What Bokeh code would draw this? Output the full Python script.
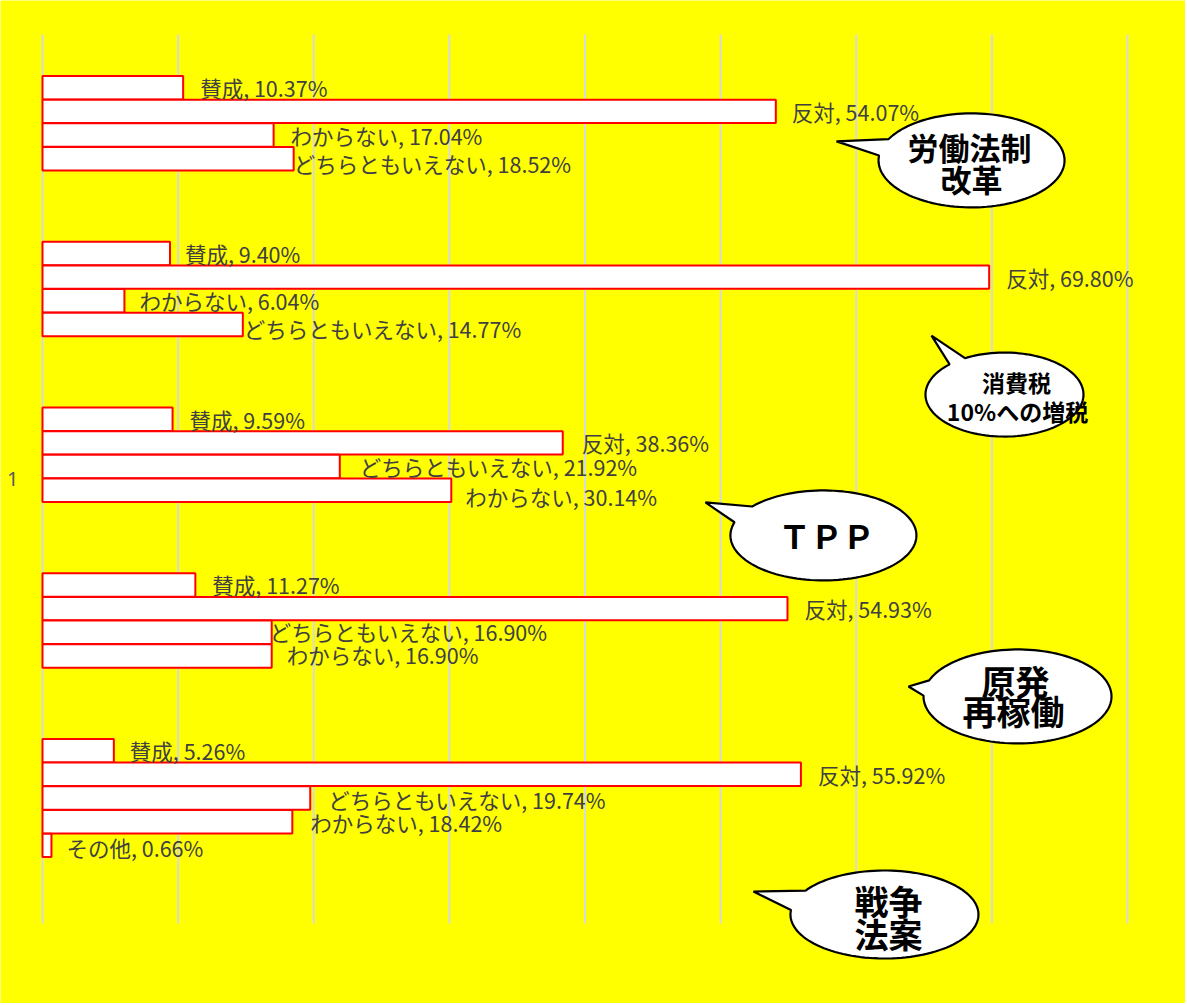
import numpy as np
from bokeh.plotting import figure
from bokeh.models import Range1d, ColumnDataSource
from bokeh.core.properties import value
from bokeh.embed import file_html
from bokeh.resources import INLINE

# ---------------- data ----------------
topics = ["労働法制改革", "消費税10%への増税", "TPP", "原発再稼働", "戦争法案"]

g1_cats = ["賛成", "反対", "わからない", "どちらともいえない"]
g1_vals = [10.37, 54.07, 17.04, 18.52]
g2_cats = ["賛成", "反対", "わからない", "どちらともいえない"]
g2_vals = [9.40, 69.80, 6.04, 14.77]
g3_cats = ["賛成", "反対", "どちらともいえない", "わからない"]
g3_vals = [9.59, 38.36, 21.92, 30.14]
g4_cats = ["賛成", "反対", "どちらともいえない", "わからない"]
g4_vals = [11.27, 54.93, 16.90, 16.90]
g5_cats = ["賛成", "反対", "どちらともいえない", "わからない", "その他"]
g5_vals = [5.26, 55.92, 19.74, 18.42, 0.66]

category_label = "1"
grid_ticks = [0, 10, 20, 30, 40, 50, 60, 70, 80]

# ---------------- styles / layout ----------------
label_dx = [[17, 16, 17, 0], [15, 17, 15, 1], [17, 19, 20, 14], [17, 17, -2, 15], [16, 17, 18, 18, 15]]
label_dy = [[0, 0, 0, 5], [0, 0, 0, 4], [0, 0, 0, 6], [0, 0, -1, -1], [0, 0, 1, 1, 2]]

groups = [(g1_cats, g1_vals), (g2_cats, g2_vals), (g3_cats, g3_vals),
          (g4_cats, g4_vals), (g5_cats, g5_vals)]
SLOTS_PER_GROUP = 7

W, H = 1185, 1003
SX = 1085 / 80.0                 # px per percent
Y_TOP, Y_GRID_BOT = -2.247, 35.30
SY = 889 / (Y_GRID_BOT - Y_TOP)  # px per bar slot
X_START = -42 / SX               # plot area starts 42px left of the value axis
X_END = X_START + W / SX
Y_START = Y_TOP - 34 / SY        # 34px above the top of the gridlines
Y_END = Y_START + H / SY

ys, rights, labels, lx, ly = [], [], [], [], []
for g, (cats, vals) in enumerate(groups):
    for i, (c, v) in enumerate(zip(cats, vals)):
        y = g * SLOTS_PER_GROUP + i
        ys.append(y)
        rights.append(v)
        labels.append(f"{c}, {v:.2f}%")
        lx.append(v + label_dx[g][i] / SX)
        ly.append(y + label_dy[g][i] / SY)

src = ColumnDataSource(dict(y=ys, right=rights, lx=lx, ly=ly, label=labels))

p = figure(width=W, height=H, output_backend="svg", toolbar_location=None,
           x_range=Range1d(X_START, X_END), y_range=Range1d(Y_END, Y_START),
           min_border_left=0, min_border_right=0, min_border_top=0, min_border_bottom=0)
p.background_fill_color = "#ffff00"
p.border_fill_color = "#ffff00"
p.outline_line_color = None
p.xaxis.visible = False
p.yaxis.visible = False
p.xgrid.visible = False
p.ygrid.visible = False

# vertical gridlines of the value axis
p.segment(x0=grid_ticks, y0=[Y_TOP] * len(grid_ticks), x1=grid_ticks,
          y1=[Y_GRID_BOT] * len(grid_ticks), line_color="#d9d9d9", line_width=2)

# category label of the (single-category) vertical axis
mid = (Y_TOP + Y_GRID_BOT) / 2
p.text(x=[-24 / SX], y=[mid], text=[category_label],
       text_font=value("Noto Sans"), text_font_size="20px", text_color="#595959",
       text_align="right", text_baseline="middle")

p.hbar(y="y", left=0, right="right", height=0.99, source=src,
       fill_color="white", line_color="#ff0000", line_width=2)

p.text(x="lx", y="ly", text="label", source=src,
       text_font=value("Noto Sans CJK JP"), text_font_size="21.5px",
       text_color="#404040", text_align="left", text_baseline="middle")

# ---------------- speech-bubble callouts ----------------
# centre (data), radii (px), tail tip offset (px), tail gap angles (deg)
bubbles = [
    dict(cx=68.5, cy=3.07, rx=93, ry=47, tip=(-135, -19), a=(186, 207)),
    dict(cx=70.93, cy=12.96, rx=79, ry=42, tip=(-73, -59), a=(226, 240)),
    dict(cx=57.58, cy=18.91, rx=93, ry=45, tip=(-118, -33), a=(197, 220)),
    dict(cx=71.89, cy=25.71, rx=94, ry=47, tip=(-109, -10), a=(181, 200)),
    dict(cx=62.08, cy=34.92, rx=94, ry=44, tip=(-131, -23), a=(186, 213)),
]
bxs, bys = [], []
for b in bubbles:
    t = np.radians(np.linspace(b["a"][1], b["a"][0] + 360, 120))
    px = b["rx"] * np.cos(t)
    py = b["ry"] * np.sin(t)
    px = np.append(px, b["tip"][0])
    py = np.append(py, b["tip"][1])
    bxs.append(list(b["cx"] + px / SX))
    bys.append(list(b["cy"] + py / SY))
p.patches(bxs, bys, fill_color="white", line_color="black", line_width=2.2)

# callout texts: (bubble index, text, dx px, dy px, size, weight)
callout_lines = [
    (0, "労働法制", -2, -14, "31px", "bold"),
    (0, "改革", 0, 18, "31px", "bold"),
    (1, "消費税", 12, -13, "23px", "bold"),
    (1, "10%への増税", 13, 16, "23px", "bold"),
    (2, "ＴＰＰ", 3, 0, "32px", "bold"),
    (3, "原発", -2, -16, "34px", "bold"),
    (3, "再稼働", -4, 14, "34px", "bold"),
    (4, "戦争", 4, -14, "34px", "bold"),
    (4, "法案", 4, 19, "34px", "bold"),
]
for bi, txt, dx, dy, size, weight in callout_lines:
    b = bubbles[bi]
    p.text(x=[b["cx"] + dx / SX], y=[b["cy"] + dy / SY], text=[txt],
           text_font=value("Noto Sans CJK JP"), text_font_size=size,
           text_font_style=weight, text_color="black",
           text_align="center", text_baseline="middle")

open("out.html", "w").write(file_html(p, INLINE))
